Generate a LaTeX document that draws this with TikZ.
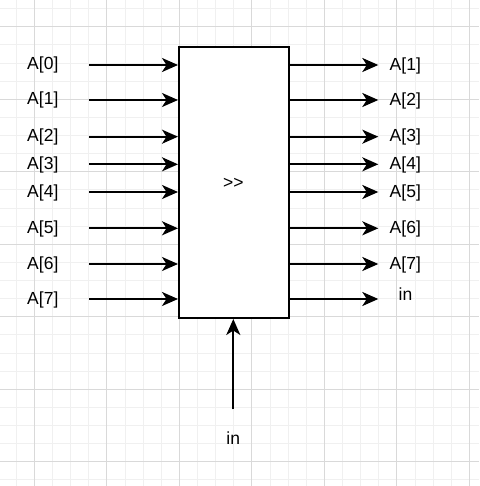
\documentclass[tikz,border=0pt]{standalone}
\usepackage{fontspec}
\setmainfont{Liberation Sans}[Ligatures={}]
\usetikzlibrary{arrows.meta}
\begin{document}
\begin{tikzpicture}[x=1pt,y=-1pt,
  minorgrid/.style={draw=black!6,line width=0.8pt},
  majorgrid/.style={draw=black!15,line width=0.8pt},
  blk/.style={draw=black,line width=2pt,fill=white,minimum width=110pt,minimum height=271pt,inner sep=0pt},
  lbl/.style={inner sep=0pt,anchor=base,font=\fontsize{17.5}{21}\selectfont},
  arr/.style={line width=2pt,-{Stealth[length=16pt,width=14pt,inset=4.5pt]}}]
\useasboundingbox (0,0) rectangle (479,486);
\fill[white] (0,0) rectangle (479,486);
% grid
\foreach \i in {0,...,27} \draw[minorgrid] ({-1.9+18.125*\i},0) -- ++(0,486);
\foreach \i in {0,...,26} \draw[minorgrid] (0,{8.6+18.125*\i}) -- ++(479,0);
\foreach \i in {0,...,6} \draw[majorgrid] ({34.3+72.5*\i},0) -- ++(0,486);
\foreach \i in {0,...,6} \draw[majorgrid] (0,{26.7+72.5*\i}) -- ++(479,0);
% block
\node[blk] (box) at (234,182.5) {};
\node[lbl] (op) at (233.3,188.3) {\string>\kern0pt\string>};
% inputs and outputs
\foreach \n/\y in {0/65,1/100,2/136.7,3/164.3,4/192,5/228.3,6/264,7/299}{
  \coordinate (s\n) at (89,\y);
  \coordinate (e\n) at (378.3,\y);
  \node[lbl] (l\n) at (42.8,\y+5) {A[\n]};
  \draw[arr] (s\n) -- (s\n -| box.west);
  \draw[arr] (e\n -| box.east) -- (e\n);
}
\foreach \n/\y in {1/65,2/100,3/136.7,4/164.3,5/192,6/228.3,7/264}{
  \node[lbl] (r\n) at (405.3,\y+5.3) {A[\n]};
}
\node[lbl] (rin) at (405.5,300.7) {in};
% bottom input
\coordinate (b) at (233.3,409.3);
\node[lbl] (bin) at (233.3,444.3) {in};
\draw[arr] (b) -- (b |- box.south);
\end{tikzpicture}
\end{document}
